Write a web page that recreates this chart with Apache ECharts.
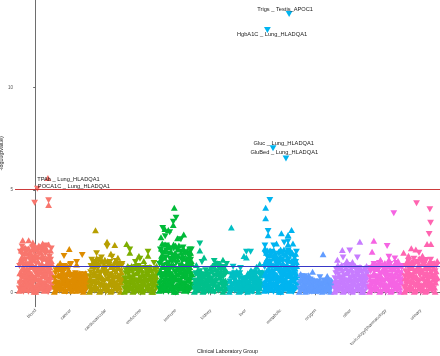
<!DOCTYPE html>
<html>
<head>
<meta charset="utf-8">
<script src="https://cdn.jsdelivr.net/npm/echarts@6/dist/echarts.min.js"></script>
<style>
html, body { margin: 0; padding: 0; background: #fff; }
#chart { width: 440px; height: 356px; }
</style>
</head>
<body>
<div id="chart"></div>
<script>
const groups = ['blood', 'cancer', 'cardiovascular', 'endocrine', 'immune', 'kidney', 'liver',
  'metabolic', 'oxygen', 'other', 'toxicology/pharmacology', 'urinary'];
const groupColors = ['#F8766D', '#DE8C00', '#B79F00', '#7CAE00', '#00BA38', '#00C08B', '#00BFC4',
  '#00B4F0', '#619CFF', '#C77CFF', '#F564E3', '#FF64B0'];

// signed -log10(pvalue): sign = direction of effect (negative -> down triangle)
// tests run left to right across each group (two batches per group)
const blood = [0.1, -1.3, 0.6, -2.0, 1.0, -0.3, 1.7, -0.8, 2.2, -1.5, 0.4,
  -0.05, 1.2, -0.5, 1.9, -0.9, 0.2, -1.6, 0.7, -2.1, 1.4, -0.35,
  0.15, -1.1, 0.55, -1.8, 1.05, -0.25, 2.0, -0.75, 1.5, -0.4, 1.25,
  -0.1, 0.9, -1.7, 0.3, -1.2, 2.1, -0.6, 1.6, -0.2, 1.85, -1.0,
  0.05, -1.4, 0.65, -2.05, 1.1, -0.3, 1.75, -0.85, 2.3, -0.5, 1.3,
  -0.15, 1.0, -0.45, 1.95, -0.7, 0.25, -1.55, 1.2, -2.2, 0.8, -1.05,
  0.1, -1.25, 0.5, -1.9, 0.95, -0.2, 1.65, -0.65, 2.05, -1.45, 0.35,
  -0.05, 1.15, -0.55, 1.8, -0.9, 0.3, -1.6, 0.75, -2.15, 1.4, -0.4];
const blood2 = [-0.2, 0.95, -0.45, 1.55, -0.1, 2.05, -0.7, 1.15, -1.85, 0.3, -1.35,
  0.25, -0.8, 1.65, -0.15, 2.2, -0.6, 1.05, -1.95, 0.45, -1.3, 0.85,
  -0.3, 1.45, -0.05, 2.15, -0.9, 0.7, -1.6, 0.35, -1.2, 1.9, -0.55,
  0.2, -1.5, 0.8, -0.45, 1.3, -2.0, 0.05, -1.05, 1.75, -0.7, 2.25,
  -0.25, 0.9, -1.7, 0.4, -1.15, 1.55, -0.1, 2.0, -0.6, 1.2, -0.95,
  0.3, -1.3, 0.6, -2.05, 1.4, -0.15, 1.8, -0.85, 0.45, -1.65, 2.1,
  -0.3, 1.1, -0.45, 2.2, -0.85, 0.2, -1.55, 0.75, -1.2, 1.5, -0.05,
  0.25, -1.0, 0.6, -1.75, 1.25, -0.2, 2.05, -0.7, 1.55, -0.35, 0.9];
const cancer = [0.05, -0.7, 0.3, -1.1, 0.55, -0.15, 1.3, -0.45, 0.9, -1.2,
  -0.1, 0.8, -0.35, 1.25, -0.6, 0.2, -1.0, 0.5, -1.3, 0.7,
  0.1, -0.85, 0.4, -1.2, 0.65, -0.25, 1.1, -0.5, 0.95, -1.35,
  -0.05, 0.6, -0.3, 0.9, -0.15, 0.45, -0.75, 0.2, -0.95, 0.5,
  0.1, -0.55, 0.3, -0.85, 0.65, -0.2, 0.95, -0.4, 0.75, -0.05,
  -0.15, 0.5, -0.7, 0.25, -0.9, 0.4, -0.1, 0.8, -0.35, 0.6];
const cancer2 = [-0.2, 0.6, -0.95, 0.4, -0.05, 1.15, -0.5, 0.85, -0.3, 1.25,
  0.3, -1.1, 0.45, -0.15, 1.0, -0.75, 1.2, -0.4, 0.1, -0.6,
  -0.25, 0.7, -0.05, 1.3, -0.55, 0.9, -0.35, 1.05, -0.8, 0.2,
  0.3, -0.85, 0.1, -0.5, 0.7, -0.25, 0.95, -0.6, 0.4, -0.1,
  -0.3, 0.8, -0.1, 0.5, -0.7, 0.25, -0.9, 0.6, -0.45, 0.15,
  0.3, -0.55, 0.05, -0.8, 0.65, -0.2, 0.95, -0.45, 0.75, -0.25];
const cardiovascular = [0.05, -0.8, 0.35, -1.3, 0.6, -0.15, 1.45, -0.5, 1.0, -1.15,
  -0.1, 0.9, -0.4, 1.5, -0.7, 0.2, -1.2, 0.55, -1.6, 0.75,
  0.1, -1.0, 0.45, -1.45, 0.7, -0.25, 1.3, -0.55, 1.6, -0.85,
  -0.05, 1.1, -0.3, 1.55, -0.65, 0.15, -1.35, 0.5, -0.9, 1.25,
  0.1, -0.75, 0.4, -1.25, 0.6, -0.2, 1.5, -0.45, 1.05, -1.4,
  -0.1, 0.85, -0.35, 1.2, -0.6, 0.25, -1.05, 0.5, -1.3, 0.7];
const cardiovascular2 = [-0.25, 0.65, -1.0, 0.45, -0.05, 1.3, -0.55, 0.85, -1.5, 0.2,
  0.35, -1.25, 0.6, -0.15, 1.1, -0.8, 1.45, -0.4, 0.05, -0.95,
  -0.3, 0.8, -0.05, 1.55, -0.6, 1.15, -0.35, 1.35, -0.9, 0.2,
  0.35, -1.0, 0.7, -0.2, 1.4, -0.8, 0.45, -1.5, 0.05, -0.55,
  -0.3, 0.9, -0.05, 1.35, -0.65, 1.15, -0.35, 0.8, -1.55, 0.2,
  0.35, -1.15, 0.65, -0.2, 1.45, -0.8, 0.05, -0.5, 1.0, -1.4];
const endocrine = [0.05, -0.7, 0.35, -1.1, 0.55, -0.2, 1.3, -0.9,
  -0.1, 0.8, -0.4, 1.2, -0.6, 0.25, -1.0, 0.5,
  0.1, -0.85, 0.4, -1.25, 0.65, -0.15, 1.05, -0.5,
  -0.05, 0.75, -0.3, 1.3, -0.55, 0.2, -0.95, 0.5,
  0.15, -0.8, 0.45, -1.2, 0.7, -0.25, 1.1, -0.5,
  -0.1, 0.9, -0.35, 1.25, -0.6, 0.2, -1.0, 0.55,
  0.05, -0.75, 0.4, -1.15, 0.6, -0.3, 1.3, -0.9];
const endocrine2 = [-0.2, 0.6, -0.95, 0.4, -0.05, 1.15, -0.5, 0.8,
  0.35, -1.2, 0.65, -0.15, 1.3, -0.75, 0.05, -0.5,
  -0.3, 0.7, -0.05, 1.2, -0.55, 0.95, -1.3, 0.25,
  0.35, -1.05, 0.6, -0.15, 1.15, -0.75, 0.05, -0.45,
  -0.3, 0.65, -0.05, 1.3, -0.6, 0.95, -1.05, 0.2,
  0.3, -1.2, 0.7, -0.15, 1.1, -0.75, 0.05, -0.45,
  -0.25, 0.9, -0.05, 1.2, -0.55, 0.8, -1.0, 0.3];
const immune = [0.1, -1.4, 0.6, -2.1, 1.05, -0.3, 1.8, -0.8, 2.4, -1.6, 0.4,
  -0.05, 1.3, -0.5, 2.0, -0.9, 0.2, -1.7, 0.75, -2.3, 1.5, -0.35,
  0.15, -1.15, 0.55, -1.9, 1.1, -0.25, 2.2, -0.75, 1.6, -0.4, 1.35,
  -0.1, 0.95, -1.8, 0.3, -1.25, 2.35, -0.6, 1.65, -0.2, 1.95, -1.0,
  0.05, -1.45, 0.65, -2.1, 1.15, -0.3, 1.8, -0.85, 2.3, -0.5, 1.3,
  -0.15, 1.0, -0.45, 1.95, -0.7, 0.25, -1.55, 1.2, -2.2, 0.8, -1.05,
  0.1, -1.25, 0.5, -1.9, 0.95, -0.2, 1.65, -0.65, 2.05, -1.45, 0.35,
  -0.05, 1.15, -0.55, 1.8, -0.9, 0.3, -1.6, 0.75, -2.1, 1.4, -0.4];
const immune2 = [-0.2, 1.0, -0.45, 1.6, -0.1, 2.15, -0.7, 1.25, -1.9, 0.3, -1.3,
  0.25, -0.85, 1.7, -0.15, 2.35, -0.6, 1.1, -2.05, 0.45, -1.35, 0.9,
  -0.3, 1.5, -0.05, 2.3, -0.9, 0.7, -1.65, 0.35, -1.2, 2.0, -0.55,
  0.2, -1.55, 0.8, -0.45, 1.35, -2.15, 0.05, -1.05, 1.8, -0.7, 2.3,
  -0.25, 0.9, -1.75, 0.4, -1.15, 1.6, -0.1, 2.1, -0.6, 1.25, -0.95,
  0.3, -1.3, 0.6, -2.0, 1.4, -0.15, 1.8, -0.85, 0.45, -1.65, 2.1,
  -0.3, 1.1, -0.45, 2.0, -0.85, 0.2, -1.55, 0.75, -1.2, 1.5, -0.05,
  0.25, -1.0, 0.6, -1.75, 1.25, -0.2, 1.95, -0.7, 1.55, -0.35, 0.9];
const kidney = [0.05, -0.6, 0.3, -0.95, 0.5, -0.15, 1.1, -0.8,
  -0.1, 0.7, -0.35, 1.05, -0.5, 0.2, -0.9, 0.45,
  0.1, -0.75, 0.35, -1.1, 0.6, -0.2, 0.95, -0.45,
  -0.05, 0.8, -0.3, 1.2, -0.55, 0.15, -1.0, 0.5,
  0.1, -0.85, 0.45, -1.3, 0.7, -0.25, 1.45, -1.05,
  -0.1, 0.9, -0.4, 1.4, -0.65, 0.2, -1.15, 0.55,
  0.05, -0.8, 0.35, -1.25, 0.6, -0.15, 1.05, -0.45];
const kidney2 = [-0.2, 0.55, -0.9, 0.4, -0.05, 1.0, -0.45, 0.75,
  0.3, -1.05, 0.6, -0.15, 0.85, -0.65, 0.05, -0.4,
  -0.25, 0.5, -0.05, 0.9, -0.6, 1.05, -0.3, 0.75,
  0.3, -0.9, 0.65, -0.15, 1.05, -0.7, 1.3, -0.4,
  -0.3, 0.6, -0.05, 1.15, -0.55, 0.95, -1.4, 0.25,
  0.35, -1.2, 0.75, -0.15, 1.05, -0.8, 1.3, -0.45,
  -0.3, 0.6, -0.05, 1.15, -0.9, 0.45, -1.4, 0.2];
const liver = [0.05, -0.55, 0.3, -0.9, 0.45, -0.15, 1.0, -0.7, 0.8,
  -0.1, 0.65, -0.35, 1.05, -0.5, 0.2, -0.85, 0.4, -0.95,
  0.1, -0.5, 0.3, -0.7, 0.45, -0.15, 0.6, -0.35, 0.7,
  -0.05, 0.6, -0.3, 0.95, -0.5, 0.15, -0.8, 0.4, 1.1,
  0.1, -0.65, 0.35, -1.0, 0.5, -0.2, 0.9, -0.45, 0.75,
  -0.1, 0.7, -0.3, 1.05, -0.55, 0.2, -0.85, 0.45, -0.95];
const liver2 = [-0.2, 0.6, -0.05, 0.85, -0.4, 0.25, -0.75, 0.5, -0.95,
  0.3, -0.8, 0.55, -0.15, 0.9, -0.45, 0.05, -0.7, 1.0,
  -0.25, 0.55, -0.05, 0.4, -0.6, 0.2, -0.3, 0.65, -0.1,
  0.3, -0.7, 0.05, -0.45, 0.85, -0.2, 1.0, -0.6, 0.25,
  -0.3, 0.8, -0.05, 0.6, -0.85, 0.25, -0.4, 1.05, -0.15,
  0.3, -0.6, 0.05, -0.95, 0.55, -0.2, 0.85, -0.4, 1.0];
const metabolic = [0.1, -1.25, 0.55, -1.9, 0.95, -0.3, 1.6, -0.75, 2.05, -1.45, 0.4,
  -0.05, 1.15, -0.5, 1.8, -0.85, 0.2, -1.5, 0.7, -2.0, 1.35, -0.35,
  0.15, -1.05, 0.5, -1.7, 1.0, -0.25, 1.9, -0.7, 1.4, -0.4, 1.2,
  -0.1, 0.85, -1.6, 0.3, -1.15, 2.0, -0.6, 1.5, -0.2, 1.75, -0.95,
  0.05, -1.3, 0.6, -1.95, 1.05, -0.3, 1.65, -0.8, 2.1, -0.5, 1.25,
  -0.15, 0.95, -0.45, 1.85, -0.7, 0.25, -1.45, 1.15, -2.05, 0.8, -1.0,
  0.1, -1.2, 0.5, -1.8, 0.9, -0.2, 1.55, -0.65, 1.95, -1.4, 0.35,
  -0.05, 1.1, -0.55, 1.7, -0.9, 0.3, -1.5, 0.75, -2.0, 1.3, -0.4];
const metabolic2 = [-0.2, 0.9, -0.45, 1.5, -0.1, 1.95, -0.65, 1.1, -1.75, 0.3, -1.3,
  0.25, -0.75, 1.55, -0.15, 2.05, -0.6, 1.0, -1.85, 0.45, -1.25, 0.8,
  -0.3, 1.35, -0.05, 2.05, -0.85, 0.7, -1.55, 0.35, -1.15, 1.8, -0.55,
  0.2, -1.4, 0.75, -0.45, 1.25, -1.9, 0.05, -1.0, 1.65, -0.7, 2.1,
  -0.25, 0.85, -1.6, 0.4, -1.1, 1.45, -0.1, 1.9, -0.6, 1.15, -0.95,
  0.3, -1.25, 0.6, -1.95, 1.35, -0.15, 1.7, -0.85, 0.45, -1.6, 2.0,
  -0.3, 1.05, -0.45, 2.05, -0.8, 0.2, -1.45, 0.7, -1.15, 1.4, -0.05,
  0.25, -0.95, 0.6, -1.7, 1.2, -0.2, 1.9, -0.7, 1.5, -0.35, 0.85];
const oxygen = [0.05, -0.45, 0.25, -0.8, 0.6,
  -0.1, 0.5, -0.3, 0.75, -0.15,
  0.1, -0.55, 0.3, -0.65, 0.45,
  -0.05, 0.4, -0.25, 0.6, -0.5,
  0.1, -0.35, 0.2, -0.55, 0.45,
  -0.05, 0.5, -0.3, 0.15, -0.6,
  0.1, -0.4, 0.25, -0.55, 0.45,
  -0.1, 0.35, -0.2, 0.6, -0.45];
const oxygen2 = [-0.2, 0.65, -0.1, 0.35, -0.7,
  0.3, -0.6, 0.05, -0.4, 0.65,
  -0.2, 0.5, -0.05, 0.35, -0.6,
  0.3, -0.45, 0.1, -0.55, 0.2,
  -0.25, 0.55, -0.05, 0.3, -0.4,
  0.3, -0.45, 0.05, -0.2, 0.55,
  -0.2, 0.55, -0.05, 0.35, -0.6,
  0.25, -0.5, 0.05, -0.3, 0.5];
const other = [0.05, -0.7, 0.35, -1.15, 0.55, -0.2, 1.35, -0.9,
  -0.1, 0.8, -0.4, 1.25, -0.6, 0.25, -1.0, 0.5,
  0.1, -0.85, 0.4, -1.3, 0.65, -0.15, 1.05, -0.5,
  -0.05, 0.75, -0.3, 1.35, -0.55, 0.2, -0.95, 0.5,
  0.15, -0.8, 0.45, -1.2, 0.7, -0.25, 1.1, -0.5,
  -0.1, 0.9, -0.35, 1.25, -0.6, 0.2, -1.0, 0.55,
  0.05, -0.75, 0.4, -1.15, 0.6, -0.3, 1.3, -0.9];
const other2 = [-0.2, 0.6, -0.95, 0.4, -0.05, 1.2, -0.5, 0.8,
  0.35, -1.2, 0.65, -0.15, 1.35, -0.75, 0.05, -0.5,
  -0.3, 0.7, -0.05, 1.2, -0.55, 0.95, -1.35, 0.25,
  0.35, -1.05, 0.6, -0.15, 1.15, -0.75, 0.05, -0.45,
  -0.3, 0.65, -0.05, 1.3, -0.6, 0.95, -1.05, 0.2,
  0.3, -1.2, 0.7, -0.15, 1.1, -0.75, 0.05, -0.45,
  -0.25, 0.9, -0.05, 1.2, -0.55, 0.8, -1.0, 0.3];
const toxicology = [0.05, -0.75, 0.35, -1.2, 0.55, -0.15, 1.4, -0.5, 0.95, -1.05,
  -0.1, 0.85, -0.4, 1.35, -0.65, 0.2, -1.1, 0.5, -1.45, 0.7,
  0.1, -0.9, 0.45, -1.3, 0.65, -0.25, 1.2, -0.55, 1.45, -0.8,
  -0.05, 1.0, -0.3, 1.4, -0.6, 0.15, -1.25, 0.5, -0.85, 1.15,
  0.1, -0.7, 0.4, -1.15, 0.6, -0.2, 1.4, -0.45, 1.0, -1.3,
  -0.1, 0.8, -0.35, 1.1, -0.6, 0.25, -0.95, 0.5, -1.2, 0.7];
const toxicology2 = [-0.25, 0.65, -1.05, 0.45, -0.05, 1.3, -0.55, 0.85, -1.4, 0.2,
  0.35, -1.25, 0.6, -0.15, 1.15, -0.8, 1.4, -0.4, 0.05, -0.95,
  -0.3, 0.8, -0.05, 1.35, -0.6, 1.05, -0.35, 1.25, -0.9, 0.2,
  0.35, -1.0, 0.7, -0.2, 1.3, -0.8, 0.45, -1.4, 0.05, -0.55,
  -0.3, 0.9, -0.05, 1.3, -0.65, 1.15, -0.35, 0.8, -1.45, 0.2,
  0.35, -1.15, 0.65, -0.2, 1.35, -0.8, 0.05, -0.5, 1.0, -1.3];
const urinary = [0.05, -0.8, 0.35, -1.3, 0.6, -0.15, 1.55, -0.5, 1.05, -1.2, 0.85,
  -0.1, 0.9, -0.4, 1.5, -0.7, 0.2, -1.25, 0.55, -1.65, 0.75, -1.05,
  0.1, -1.0, 0.45, -1.5, 0.7, -0.25, 1.3, -0.55, 1.65, -0.85, 1.15,
  -0.05, 1.1, -0.3, 1.6, -0.65, 0.15, -1.35, 0.5, -0.9, 1.25, -0.8,
  0.1, -0.75, 0.4, -1.25, 0.6, -0.2, 1.5, -0.45, 1.05, -1.4, 0.85,
  -0.1, 0.85, -0.35, 1.2, -0.6, 0.25, -1.05, 0.5, -1.3, 0.7, 1.55];
const urinary2 = [-0.25, 0.7, -1.05, 0.45, -0.05, 1.4, -0.6, 0.9, -1.55, 0.2, -1.2,
  0.35, -1.35, 0.6, -0.15, 1.2, -0.85, 1.55, -0.4, 0.05, -1.0, 1.1,
  -0.3, 0.8, -0.05, 1.55, -0.6, 1.2, -0.35, 1.4, -0.9, 0.2, -1.6,
  0.35, -1.05, 0.7, -0.2, 1.45, -0.85, 0.45, -1.55, 0.05, -0.55, 1.2,
  -0.3, 0.95, -0.05, 1.35, -0.65, 1.2, -0.35, 0.8, -1.6, 0.2, -1.0,
  0.35, -1.2, 0.65, -0.2, 1.45, -0.8, 0.05, -0.5, 1.05, -1.35, 0.75];

// stand-out tests: [position within group, signed -log10(pvalue)]
const bloodTop = [[-0.03, -4.38], [0.37, -4.5], [0.37, 4.27], [-0.37, 2.55], [-0.2, 2.55], [-0.08, 2.45], [0.2, 2.4],
  [0.37, 2.35], [-0.39, -2.25], [-0.1, -2.2], [0.12, -2.15], [0.3, -2.3]];
const cancerTop = [[-0.04, 2.13], [-0.19, -1.79], [0.33, -1.84], [0.17, -1.5], [0.17, 1.38], [-0.3, 1.45], [0.0, -1.4]];
const cardiovascularTop = [[-0.29, 3.04], [-0.26, -1.92], [-0.26, 1.68], [-0.12, -1.72], [0.04, 2.48], [0.04, -2.25],
  [0.26, 2.32], [0.15, 1.9], [0.18, -1.75], [0.35, 1.7], [-0.4, -1.6]];
const endocrineTop = [[-0.4, 2.37], [-0.31, -2.1], [-0.31, 1.95], [-0.05, 1.79], [-0.02, -1.65], [0.21, -2.0], [0.21, 1.8],
  [0.09, 1.55], [0.38, -1.45], [-0.15, -1.5]];
const immuneTop = [[-0.04, 4.14], [0.01, -3.65], [-0.07, -3.45], [-0.07, 3.3], [-0.31, 3.1], [-0.37, -3.15], [-0.21, 3.05],
  [-0.17, -2.95], [0.23, 2.84], [0.15, -2.6], [0.4, -2.1], [0.4, 1.95], [-0.42, 2.7], [0.05, 2.65], [-0.3, -2.75]];
const kidneyTop = [[-0.31, -2.4], [-0.31, 2.05], [-0.19, 1.72], [-0.41, 1.35], [-0.25, -1.5], [0.35, 1.6], [0.1, -1.55]];
const liverTop = [[-0.41, 3.18], [0.02, -2.0], [0.02, 1.72], [0.14, -2.0], [-0.05, 1.79], [0.31, 1.27], [-0.36, -1.27],
  [0.4, 1.4], [-0.15, -1.2]];
const metabolicTop = [[-0.31, -4.51], [-0.43, 4.14], [-0.43, 3.62], [-0.36, -3.0], [-0.36, 2.8], [0.31, 3.05], [0.21, 2.81],
  [0.21, -2.5], [0.21, 2.35], [0.02, 2.9], [-0.12, 2.4], [-0.45, -2.3], [-0.45, 2.15], [0.35, 2.4], [0.1, -2.45], [-0.2, -2.3]];
const oxygenTop = [[0.21, 1.87], [-0.09, 1.02], [-0.43, 0.91], [-0.31, -0.8], [-0.31, 0.6], [0.33, 0.81], [0.12, -0.75], [-0.2, 0.85]];
const otherTop = [[0.26, 2.48], [-0.24, 2.08], [-0.03, -2.05], [-0.22, -1.72], [0.19, -1.72], [-0.11, 1.55], [-0.38, 1.6], [0.05, 1.5]];
const toxicologyTop = [[0.23, -3.87], [-0.34, 2.53], [0.04, -2.27], [-0.39, 2.0], [0.09, -1.75], [0.09, 1.6], [0.26, -1.67],
  [-0.15, 1.6], [0.35, 1.55]];
const urinaryTop = [[-0.12, -4.35], [0.26, -4.06], [0.28, -3.41], [0.24, -2.86], [0.18, 2.37], [0.29, 2.37], [-0.49, 1.95],
  [-0.27, 2.16], [-0.14, 2.11], [-0.05, -1.95], [0.16, -1.59], [-0.35, 1.8], [0.05, 1.8]];

// labelled hits
const hitNames = ['Trigs _ Testis_APOC1', 'HgbA1C _ Lung_HLADQA1', 'Gluc _ Lung_HLADQA1', 'GluBed _ Lung_HLADQA1',
  'TPAb _ Lung_HLADQA1', 'POCA1C _ Lung_HLADQA1'];
const hitGroup = ['metabolic', 'metabolic', 'metabolic', 'metabolic', 'blood', 'blood'];
const hitPos = [0.24, -0.38, -0.22, 0.15, 0.35, 0.05];
const hitP = [-13.57, -12.79, -7.03, -6.54, 5.58, -5.06];

const bonferroniLine = 5.05;
const nominalLine = 1.3;
const yTicks = [0, 5, 10];

const dense = [[blood, blood2], [cancer, cancer2], [cardiovascular, cardiovascular2], [endocrine, endocrine2],
  [immune, immune2], [kidney, kidney2], [liver, liver2], [metabolic, metabolic2], [oxygen, oxygen2],
  [other, other2], [toxicology, toxicology2], [urinary, urinary2]];
const tops = [bloodTop, cancerTop, cardiovascularTop, endocrineTop, immuneTop, kidneyTop, liverTop, metabolicTop,
  oxygenTop, otherTop, toxicologyTop, urinaryTop];

// label nudges (px) for the hit labels, like ggrepel placed them
const hitOffset = [[-4, -5], [4.6, 4.3], [10.7, -5], [-1.7, -5.6], [20.5, 1.3], [36.5, -2]];

const font = 'Liberation Sans, Arial, sans-serif';
const triSize = [6.8, 6];

function pt(x, s) {
  return { value: [x, Math.abs(s)], symbolRotate: s < 0 ? 180 : 0 };
}

const series = groups.map((g, k) => {
  const data = [];
  dense[k].forEach((vals, b) => {
    const shift = b * 0.5 * 0.94 / (vals.length - 1);
    vals.forEach((s, i) => data.push(pt(k - 0.47 + shift + 0.94 * i / (vals.length - 1) - shift * i / (vals.length - 1), s)));
  });
  tops[k].forEach(p => data.push(pt(k + p[0], p[1])));
  return {
    type: 'scatter',
    name: g,
    data: data,
    symbol: 'triangle',
    symbolSize: triSize,
    itemStyle: { color: groupColors[k], opacity: 1 },
    z: 2
  };
});

function refLine(y, color) {
  return {
    type: 'scatter',
    data: [],
    z: 3,
    markLine: {
      silent: true,
      symbol: ['none', 'none'],
      label: { show: false },
      animation: false,
      lineStyle: { color: color, width: 1, type: 'solid', opacity: 1 },
      data: [{ yAxis: y }]
    }
  };
}
series.push(refLine(bonferroniLine, '#cc3b3b'));
series.push(refLine(nominalLine, '#3838c8'));

series.push({
  type: 'scatter',
  z: 4,
  symbol: 'triangle',
  symbolSize: triSize,
  data: hitNames.map((n, i) => {
    const k = groups.indexOf(hitGroup[i]);
    const item = pt(k + hitPos[i], hitP[i]);
    item.itemStyle = { color: groupColors[k], opacity: 1 };
    item.label = {
      show: true,
      position: 'inside',
      formatter: n,
      offset: hitOffset[i],
      color: '#1a1a1a',
      fontSize: 5.7,
      fontFamily: font
    };
    return item;
  })
});

const chart = echarts.init(document.getElementById('chart'));
chart.setOption({
  animation: false,
  backgroundColor: '#fff',
  grid: { left: 15, right: 0, top: 0, bottom: 49.3, containLabel: false, outerBoundsMode: 'none' },
  xAxis: {
    type: 'value',
    min: -0.59,
    max: 11.55,
    name: 'Clinical Laboratory Group',
    nameLocation: 'middle',
    nameGap: 42,
    nameMoveOverlap: false,
    nameTextStyle: { color: '#1a1a1a', fontSize: 5.4, fontFamily: font },
    axisLine: { show: true, lineStyle: { color: '#6e6e6e', width: 1 } },
    axisTick: { show: true, customValues: groups.map((g, i) => i), length: 2.5, lineStyle: { color: '#6e6e6e' } },
    axisLabel: {
      customValues: groups.map((g, i) => i),
      formatter: v => groups[Math.round(v)],
      rotate: 45,
      margin: 3,
      fontSize: 4.5,
      color: '#555',
      fontFamily: font
    },
    splitLine: { show: false }
  },
  yAxis: {
    type: 'value',
    min: -0.68,
    max: 14.25,
    name: '-log10(pvalue)',
    nameLocation: 'middle',
    nameGap: 11,
    nameMoveOverlap: false,
    nameRotate: 90,
    nameTextStyle: { color: '#1a1a1a', fontSize: 5.4, fontFamily: font },
    axisLine: { show: true, lineStyle: { color: '#6e6e6e', width: 1 } },
    axisTick: { show: true, customValues: yTicks, length: 2.5, lineStyle: { color: '#6e6e6e' } },
    axisLabel: { customValues: yTicks, margin: 2, fontSize: 4.5, color: '#555', fontFamily: font },
    splitLine: { show: false }
  },
  series: series
});
</script>
</body>
</html>
